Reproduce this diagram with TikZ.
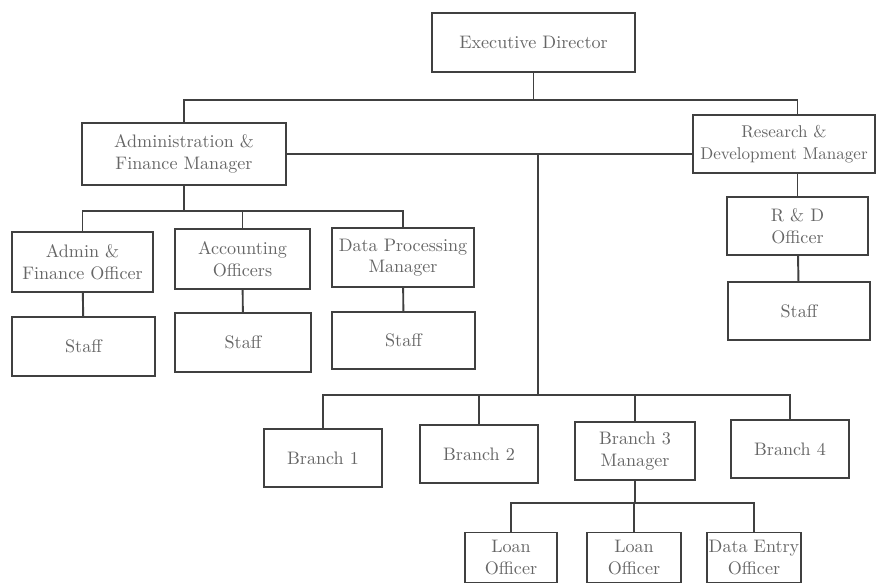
\documentclass[tikz,border=0pt]{standalone}
\usepackage{tikz}
\usetikzlibrary{positioning, calc}

\begin{document}
\begin{tikzpicture}[
    x=0.02cm, y=-0.02cm,
    orgbox/.style={rectangle, draw=black!75, line width=1.1pt, fill=white, text=black!60, align=center, inner sep=0.5pt, font=\fontsize{10.3}{12.3}\selectfont},
    wide/.style={minimum width=#1*0.02cm},
    link/.style={draw=black!75, line width=1.1pt}
]
\useasboundingbox (0,0) rectangle (877,584);

\node[orgbox, wide=203, minimum height=1.18cm] (exec) at (533.5,42.5) {Executive Director};

\node[orgbox, wide=204, minimum height=1.24cm] (afm) at (184,154) {Administration \&\\Finance Manager};
\node[orgbox, wide=182, minimum height=1.16cm, font=\fontsize{9.7}{12.3}\selectfont] (rdm) at (784,144) {Research \&\\Development Manager};

\node[orgbox, wide=141, minimum height=1.2cm] (afo) at (82.5,262) {Admin \&\\Finance Officer};
\node[orgbox, wide=135, minimum height=1.2cm] (acc) at (242.5,259) {Accounting\\Officers};
\node[orgbox, wide=142, minimum height=1.18cm] (dpm) at (403,257.5) {Data Processing\\Manager};

\node[orgbox, wide=143, minimum height=1.18cm] (staffa) at (83.5,346.5) {Staff};
\node[orgbox, wide=136, minimum height=1.18cm] (staffb) at (243,342.5) {Staff};
\node[orgbox, wide=143, minimum height=1.14cm] (staffc) at (403.5,340.5) {Staff};

\node[orgbox, wide=141, minimum height=1.16cm] (rdo) at (797.5,226) {R \& D\\Officer};
\node[orgbox, wide=142, minimum height=1.16cm] (staffd) at (799,311) {Staff};

\node[orgbox, wide=118, minimum height=1.16cm] (br1) at (323,458) {Branch 1};
\node[orgbox, wide=118, minimum height=1.16cm] (br2) at (479,454) {Branch 2};
\node[orgbox, wide=120, minimum height=1.16cm] (br3) at (635,451) {Branch 3\\Manager};
\node[orgbox, wide=118, minimum height=1.16cm] (br4) at (790,449) {Branch 4};

\node[orgbox, wide=92, minimum height=1.0cm] (loana) at (511,557.5) {Loan\\Officer};
\node[orgbox, wide=94, minimum height=1.0cm] (loanb) at (634,557.5) {Loan\\Officer};
\node[orgbox, wide=94, minimum height=1.0cm] (dataentry) at (754,557.5) {Data Entry\\Officer};

\coordinate (hub) at (538,154);
\coordinate (bus) at (538,395);

\draw[link] (exec.south) -- ++(0,27) -| (afm.north);
\draw[link] (exec.south) -- ++(0,27) -| (rdo.north |- rdm.north);
\draw[link] (afm.east) -- (afm.east -| rdm.west);

\draw[link] (afm.south) -- ++(0,25) -| (afo.north);
\draw[link] (afm.south) -- ++(0,25) -| (acc.north);
\draw[link] (afm.south) -- ++(0,25) -| (dpm.north);
\draw[link] (afo) -- (staffa);
\draw[link] (acc) -- (staffb);
\draw[link] (dpm) -- (staffc);

\draw[link] (rdo.north |- rdm.south) -- (rdo.north);
\draw[link] (rdo) -- (staffd);

\draw[link] (hub) -- (bus);
\draw[link] (bus) -| (br1.north);
\draw[link] (bus) -| (br2.north);
\draw[link] (bus) -| (br3.north);
\draw[link] (bus) -| (br4.north);

\draw[link] (br3.south) -- ++(0,22) -| (loana.north);
\draw[link] (br3.south) -- ++(0,22) -| (loanb.north);
\draw[link] (br3.south) -- ++(0,22) -| (dataentry.north);

\end{tikzpicture}
\end{document}
